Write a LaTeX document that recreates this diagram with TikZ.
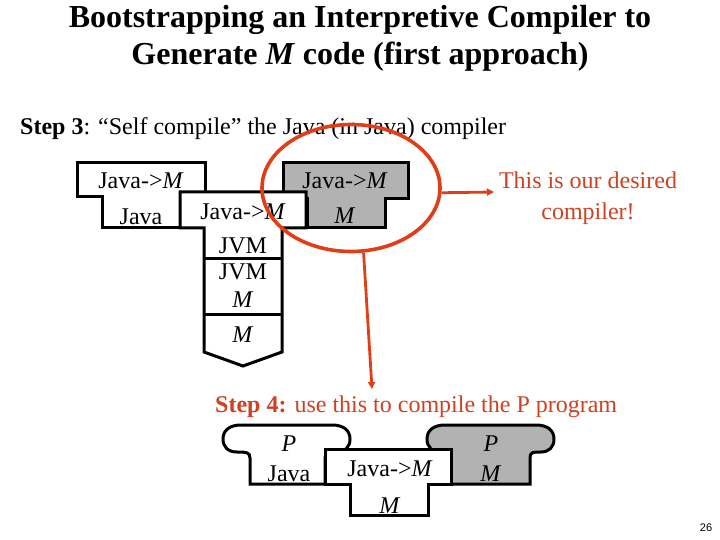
\documentclass[tikz,border=0pt]{standalone}
\usepackage{fontspec}
\setmainfont{Liberation Serif}
\newfontfamily\pgnum{Liberation Sans}
\usetikzlibrary{arrows.meta,shapes.geometric}
\definecolor{tgray}{RGB}{178,178,178}
\definecolor{hred}{RGB}{224,62,24}
\definecolor{tred}{RGB}{206,66,34}
\tikzset{
  outl/.style={draw=black, line width=3pt},
  wfill/.style={outl, fill=white},
  gfill/.style={outl, fill=tgray},
  lbl/.style={font=\fontsize{24}{28}\selectfont, inner sep=0pt, text height=16pt, text depth=0pt},
  ttl/.style={font=\fontsize{32}{37}\selectfont\bfseries, inner sep=0pt, text height=21pt, text depth=0pt},
  redarr/.style={draw=hred, line width=2.8pt, -{Triangle[length=7pt,width=7pt]}},
}
\begin{document}
\begin{tikzpicture}[x=1pt,y=-1pt]
\useasboundingbox (0,0) rectangle (720,540);
\fill[white] (0,0) rectangle (720,540);

% titles
\node[ttl] (t1) at (360,17) {Bootstrapping an Interpretive Compiler to};
\node[ttl] (t2) at (360,54) {Generate \textit{M} code (first approach)};
\node[lbl, anchor=west] (s3) at (20,127) {\textbf{Step 3}: “Self compile” the Java (in Java) compiler};

% upper diagram
\draw[wfill] (77,163) -- (205,163) -- (205,197) -- (180,197) -- (180,228) -- (102,228) -- (102,197) -- (77,197) -- cycle;
\draw[gfill] (283,163) -- (408,163) -- (408,199) -- (385,199) -- (385,228) -- (307,228) -- (307,199) -- (283,199) -- cycle;
\draw[wfill] (180,192) -- (306,192) -- (306,228) -- (282,228) -- (282,352) -- (243,366) -- (204,352) -- (204,228) -- (180,228) -- cycle;
\draw[outl] (204,258) -- (282,258);
\draw[outl] (204,314) -- (282,314);

\node[lbl] (a1) at (141,181) {Java-\textgreater\textit{M}};
\node[lbl] (a2) at (141,217) {Java};
\node[lbl] (b1) at (243,211) {Java-\textgreater\textit{M}};
\node[lbl] (b2) at (243,246) {JVM};
\node[lbl] (b3) at (243,271) {JVM};
\node[lbl] (b4) at (243,299) {\textit{M}};
\node[lbl] (b5) at (243,334) {\textit{M}};
\node[lbl] (c1) at (345,181) {Java-\textgreater\textit{M}};
\node[lbl] (c2) at (345,216) {\textit{M}};

% highlight
\node[ellipse, draw=hred, line width=3.6pt, minimum width=178pt, minimum height=127pt, inner sep=0pt] (ring) at (351,188) {};
\coordinate (tip1) at (494,192);
\coordinate (tip2) at (372,389);
\draw[redarr] (ring.-3) -- (tip1);
\draw[redarr] (ring.-79) -- (tip2);

\node[lbl, text=tred, align=center, text height=, font=\fontsize{24}{31}\selectfont] (desired) at (588,196) {This is our desired\\compiler!};
\node[lbl, text=tred, anchor=west] (s4) at (215,404) {\textbf{Step 4:} use this to compile the P program};

% lower diagram
\draw[wfill] (250,484) -- (250,458) .. controls (250,452) and (246,452) .. (237,452) .. controls (228,452) and (223,447) .. (223,439) .. controls (223,430) and (230,425) .. (241,425) -- (332,425) .. controls (343,425) and (350,430) .. (350,439) .. controls (350,447) and (345,452) .. (337,452) .. controls (329,452) and (325,452) .. (325,458) -- (325,484) -- cycle;
\draw[gfill] (451,484) -- (451,458) .. controls (451,452) and (448,452) .. (441,452) .. controls (432,452) and (427,447) .. (427,439) .. controls (427,430) and (434,425) .. (445,425) -- (536,425) .. controls (547,425) and (554,430) .. (554,439) .. controls (554,447) and (549,452) .. (541,452) .. controls (533,452) and (530,452) .. (530,458) -- (530,484) -- cycle;
\draw[wfill] (325,449) -- (451,449) -- (451,484) -- (428,484) -- (428,515) -- (350,515) -- (350,484) -- (325,484) -- cycle;

\node[lbl] (p1) at (289,443) {\textit{P}};
\node[lbl] (p2) at (289,473) {Java};
\node[lbl] (q1) at (390,468) {Java-\textgreater\textit{M}};
\node[lbl] (q2) at (390,505) {\textit{M}};
\node[lbl] (r1) at (491,443) {\textit{P}};
\node[lbl] (r2) at (491,473) {\textit{M}};

\node[font=\pgnum\fontsize{11}{13}\selectfont, inner sep=0pt] (pg) at (706,528) {26};
\end{tikzpicture}
\end{document}
